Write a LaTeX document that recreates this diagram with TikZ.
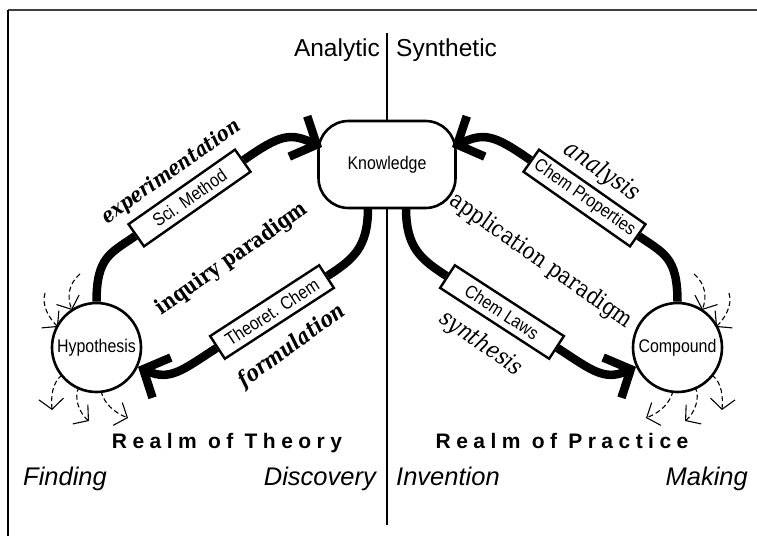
\documentclass[tikz,border=0pt]{standalone}
\usepackage{fontspec}
\usepackage{graphicx}
\setmainfont{DejaVu Serif}
\setsansfont{Liberation Sans}
\newfontfamily\condsf[FakeStretch=0.87]{Liberation Sans}
\newfontfamily\trackedsf[LetterSpace=26]{Liberation Sans}
\newfontfamily\labelserif[FakeStretch=0.86]{DejaVu Serif}
\usetikzlibrary{arrows.meta,calc}
\newcommand{\fitw}[2]{\resizebox{#1}{!}{\labelserif #2}}
\newcommand{\sproutset}{%
  \draw[sprout] (80,262) .. controls (68,252) and (67,238) .. (72,226);
  \draw[sprout] (45,243) .. controls (41,230) and (50,217) .. (58,209);
  \draw[sprout] (62,161) .. controls (52,153) and (51,140) .. (52,126);
  \draw[sprout] (79,149) .. controls (73,138) and (80,122) .. (89,115);
  \draw[sprout] (101,145) .. controls (104,133) and (113,124) .. (128,118);
}
\begin{document}
\begin{tikzpicture}[x=1pt,y=1pt,
  nodefont/.style={font=\condsf\fontsize{18.3}{20}\selectfont},
  realm/.style={circle, draw, line width=2.6pt, minimum size=89pt, inner sep=0pt, fill=white, nodefont},
  knowbox/.style={rectangle, rounded corners=30pt, draw, line width=2.6pt, minimum width=137pt, minimum height=87pt, fill=white, nodefont},
  method/.style={rectangle, draw, line width=2.4pt, fill=white, minimum width=130pt, minimum height=27pt, inner sep=0pt, nodefont},
  flow/.style={line width=8.5pt},
  flowtip/.style={flow, -{Straight Barb[angle=95:30pt]}},
  sprout/.style={line width=1.1pt, dash pattern=on 5pt off 3pt, -{Straight Barb[angle=100:16pt]}},
  heading/.style={font=\sffamily\fontsize{24.5}{28}\selectfont, inner sep=0pt},
  realmtitle/.style={font=\trackedsf\bfseries\fontsize{21}{24}\selectfont, inner sep=0pt},
  corner/.style={font=\sffamily\itshape\fontsize{25.5}{28}\selectfont, inner sep=0pt},
  rule/.style={line width=1.3pt},
  lbl/.style={inner sep=0pt}
]
\fill[white] (0,0) rectangle (757,536);
\useasboundingbox (0,0) rectangle (757,536);

% frame
\draw[line width=1.2pt, black!75] (8,526) -- (757,526);
\draw[line width=1.3pt] (8,526) -- (8,0);

% nodes
\node[knowbox] (know) at (387,371.5) {Knowledge};
\node[realm] (hyp) at (96.5,188.5) {Hypothesis};
\node[realm] (comp) at (677.5,188.5) {Compound};

% centre rule
\coordinate (ruletop) at (387,503);
\coordinate (rulebot) at (387,11);
\draw[rule] (ruletop) -- (know.north);
\draw[rule] (know.south) -- (rulebot);

\node[heading, anchor=base east] (ana) at (380,479.5) {Analytic};
\node[heading, anchor=base west] (syn) at (396,479.5) {Synthetic};

% connector points on Knowledge
\coordinate (kL) at ($(know.center)+(-19,-43.5)$);
\coordinate (kR) at ($(know.center)+(19,-43.5)$);
\coordinate (tipL) at ($(know.center)+(-65,17.5)$);
\coordinate (tipR) at ($(know.center)+(65,17.5)$);

% method boxes
\node[method, rotate=35] (sci) at (189.5,338) {Sci. Method};
\node[method, rotate=33] (theo) at (272,224) {Theoret. Chem};
\node[method, rotate=-33] (laws) at (502,224) {Chem Laws};
\node[method, rotate=-35] (props) at (584.5,338) {Chem Properties};

% connectors
\draw[flow] (hyp.north) .. controls +(0,45) and +(215:30) .. (sci.west);
\draw[flowtip] (sci.east) .. controls +(35:45) and +(156:35) .. (tipL);
\draw[flow] (kL) .. controls +(0,-40) and +(33:30) .. (theo.east);
\draw[flowtip] (theo.west) .. controls +(213:40) and +(-24.5:35) .. (hyp.-25);
\draw[flow] (comp.north) .. controls +(0,45) and +(-35:30) .. (props.east);
\draw[flowtip] (props.west) .. controls +(145:45) and +(24:35) .. (tipR);
\draw[flow] (kR) .. controls +(0,-40) and +(147:30) .. (laws.west);
\draw[flowtip] (laws.east) .. controls +(-33:40) and +(204.5:35) .. (comp.205);

% sprouting dashed arrows
\sproutset
\begin{scope}[xshift=774pt, xscale=-1]
\sproutset
\end{scope}

% labels
\node[lbl, rotate=35] (lexp) at (171.5,364) {\fitw{165pt}{\bfseries\itshape experimentation}};
\node[lbl, rotate=35] (linq) at (232,277) {\fitw{180pt}{\bfseries inquiry paradigm}};
\node[lbl, rotate=36] (lform) at (292,190) {\fitw{126pt}{\bfseries\itshape formulation}};
\node[lbl, rotate=-35] (lana) at (602,364) {\fitw{86pt}{\itshape analysis}};
\node[lbl, rotate=-35] (lapp) at (541,275) {\fitw{217pt}{application paradigm}};
\node[lbl, rotate=-35] (lsyn) at (481,192) {\fitw{95pt}{\itshape synthesis}};

% bottom texts
\node[realmtitle, anchor=base] (rth) at (227,87.7) {Realm of Theory};
\node[realmtitle, anchor=base] (rpr) at (562,87.7) {Realm of Practice};
\node[corner, anchor=base west] (fin) at (23,51) {Finding};
\node[corner, anchor=base east] (dis) at (376,51) {Discovery};
\node[corner, anchor=base west] (inv) at (396,51) {Invention};
\node[corner, anchor=base east] (mak) at (748,51) {Making};
\end{tikzpicture}
\end{document}
